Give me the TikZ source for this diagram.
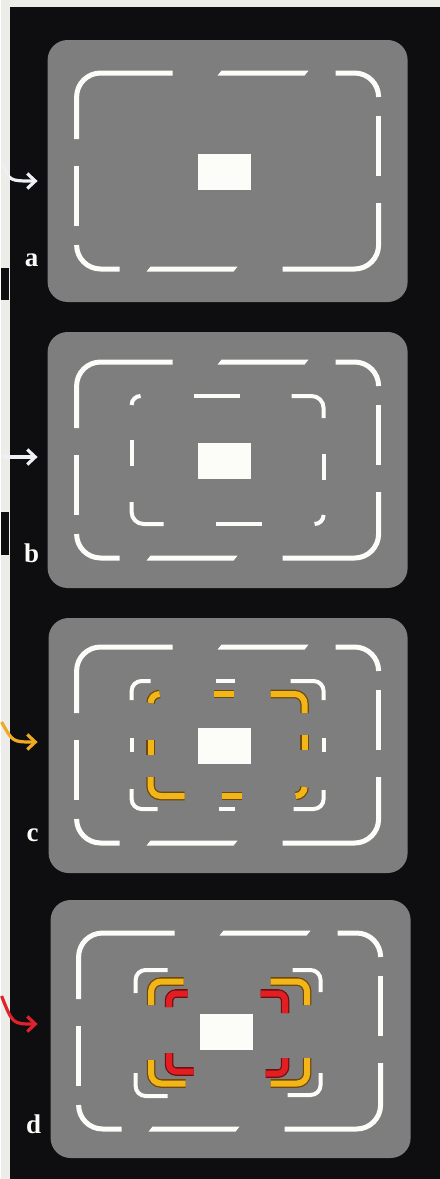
\documentclass[tikz,border=0pt]{standalone}
\usepackage{fontspec}
\setmainfont{Liberation Serif}
\usetikzlibrary{arrows.meta}

\definecolor{bg}{RGB}{14,14,17}
\definecolor{paper}{RGB}{236,236,232}
\definecolor{scrgray}{RGB}{127,126,127}
\definecolor{scrwhite}{RGB}{252,252,248}
\definecolor{ylw}{RGB}{242,182,24}
\definecolor{ydark}{RGB}{112,72,10}
\definecolor{rd}{RGB}{226,30,34}
\definecolor{rdark}{RGB}{110,16,16}
\definecolor{arrw}{RGB}{238,240,246}
\definecolor{arro}{RGB}{240,170,34}
\definecolor{arrr}{RGB}{224,34,44}

\tikzset{
  screen/.style={fill=scrgray, rounded corners=20pt, inner sep=0pt},
  wline/.style={draw=scrwhite, line width=5pt, rounded corners=24pt},
  wthin/.style={draw=scrwhite, line width=4pt},
  ystroke/.style={draw=ydark, double=ylw, double distance=6pt, line width=1.3pt},
  rstroke/.style={draw=rdark, double=rd, double distance=6pt, line width=1.3pt},
  lbl/.style={text=scrwhite, font=\fontsize{27}{27}\selectfont\bfseries, inner sep=0pt},
  pointer/.style={line width=3.2pt, -{Straight Barb[length=8pt,width=15pt]}}
}

\newcommand{\framehalf}{%
  \draw[wline] (-151,-32) -- (-151,-98) -- (-55,-98);
  \fill[scrwhite] (-10,-95.5) -- (77,-95.5) -- (81,-100.5) -- (-6,-100.5) -- cycle;
  \draw[wline] (108,-98) -- (151,-98) -- (151,-74);
  \draw[wline] (151,-55) -- (151,5);
}
\newcommand{\screenframe}[2]{%
  \begin{scope}[shift={(#1,#2)}]
    \framehalf
    \begin{scope}[rotate=180]\framehalf\end{scope}
    \fill[scrwhite] (-29.5,-17) rectangle (23.5,19);
  \end{scope}}
\newcommand{\innerhalf}{%
  \draw[wthin, rounded corners=9pt] (-96,-55) -- (-96,-64) -- (-87,-64);
  \draw[wthin] (-34,-64) -- (12,-64);
  \draw[wthin, rounded corners=12pt] (64,-64) -- (96,-64) -- (96,-42);
  \draw[wthin] (96,-6) -- (96,20);
}
\newcommand{\yellowhalf}{%
  \draw[ystroke, rounded corners=9pt] (-77,-42) -- (-77,-51) -- (-68,-51);
  \draw[ystroke] (-14,-51) -- (6,-51);
  \draw[ystroke, rounded corners=10pt] (43,-51) -- (77,-51) -- (77,-32);
  \draw[ystroke] (77,-10) -- (77,5);
}

\begin{document}
\begin{tikzpicture}[x=1pt, y=-1pt]
\fill[bg] (0,0) rectangle (439,1179);
\fill[paper] (0,0) rectangle (9,1179);
\fill[paper] (0,0) rectangle (439,7);
\fill[bg] (0,268) rectangle (8,300);
\fill[bg] (0,512) rectangle (8,555);

\node[screen, minimum width=360pt, minimum height=262pt] (scrA) at (227,171) {};
\node[screen, minimum width=360pt, minimum height=256pt] (scrB) at (227,460) {};
\node[screen, minimum width=359pt, minimum height=255pt] (scrC) at (227.5,745.5) {};
\node[screen, minimum width=360pt, minimum height=258pt] (scrD) at (230,1029) {};

\screenframe{227}{171}
\screenframe{227}{460}
\screenframe{227}{745}
\screenframe{229}{1031}

\begin{scope}[shift={(227,460)}]
  \innerhalf
  \begin{scope}[rotate=180]\innerhalf\end{scope}
\end{scope}

\begin{scope}[shift={(227,745)}]
  \draw[wthin, rounded corners=10pt] (-96,-45) -- (-96,-64) -- (-77,-64);
  \draw[wthin, rounded corners=10pt] (63,-64) -- (96,-64) -- (96,-45);
  \draw[wthin, rounded corners=10pt] (96,45) -- (96,64) -- (66,64);
  \draw[wthin, rounded corners=10pt] (-70,64) -- (-96,64) -- (-96,44);
  \draw[wthin] (-12,-64) -- (7,-64);
  \draw[wthin] (-9,64) -- (7,64);
  \draw[wthin] (-96,-7) -- (-96,7);
  \draw[wthin] (96,-7) -- (96,7);
  \yellowhalf
  \begin{scope}[rotate=180]\yellowhalf\end{scope}
\end{scope}

\begin{scope}[shift={(229,1031)}]
  \draw[wthin, rounded corners=10pt] (-94,-38) -- (-94,-61) -- (-62,-61);
  \draw[wthin, rounded corners=10pt] (63,-61) -- (91,-61) -- (91,-39);
  \draw[wthin, rounded corners=10pt] (-94,42) -- (-94,65) -- (-62,65);
  \draw[wthin, rounded corners=10pt] (58,64) -- (91,64) -- (91,42);
  \draw[ystroke, rounded corners=10pt] (-78.5,-26) -- (-78.5,-49.5) -- (-46,-49.5);
  \draw[ystroke, rounded corners=10pt] (41,-49.5) -- (77.5,-49.5) -- (77.5,-26);
  \draw[ystroke, rounded corners=10pt] (-78.5,29) -- (-78.5,52.5) -- (-44,52.5);
  \draw[ystroke, rounded corners=10pt] (41,52.5) -- (77.5,52.5) -- (77.5,27);
  \draw[rstroke, rounded corners=7pt] (-60.5,-24) -- (-60.5,-37.5) -- (-42,-37.5);
  \draw[rstroke, rounded corners=7pt] (31,-37.5) -- (55.5,-37.5) -- (55.5,-18);
  \draw[rstroke, rounded corners=7pt] (-60.5,22) -- (-60.5,40.5) -- (-36,40.5);
  \draw[rstroke, rounded corners=7pt] (36,42.5) -- (55.5,42.5) -- (55.5,27);
\end{scope}

\node[lbl] (labA) at (31,260) {a};
\node[lbl] (labB) at (31,553) {b};
\node[lbl] (labC) at (32,835) {c};
\node[lbl] (labD) at (33,1124) {d};

\coordinate (tailA) at (2,164);
\coordinate (headA) at (37,181);
\coordinate (tailB) at (2,457);
\coordinate (headB) at (37,457);
\coordinate (tailC) at (1,722);
\coordinate (headC) at (37,742);
\coordinate (tailD) at (1,996);
\coordinate (headD) at (37,1024);

\draw[pointer, arrw] (tailA) .. controls (9,181) .. (headA);
\draw[pointer, arrw] (tailB) -- (headB);
\draw[pointer, arro] (tailC) .. controls (12,742) .. (headC);
\draw[pointer, arrr] (tailD) .. controls (12,1024) .. (headD);
\end{tikzpicture}
\end{document}
